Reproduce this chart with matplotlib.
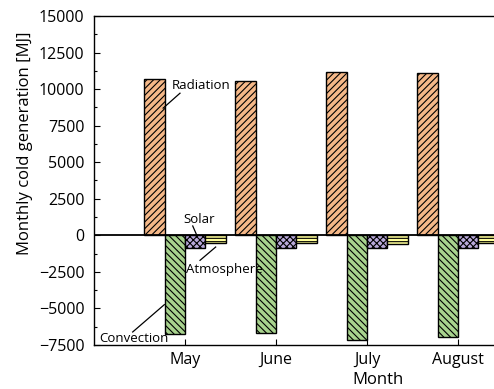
import matplotlib
matplotlib.use("Agg")
import matplotlib.pyplot as plt
from matplotlib.ticker import MultipleLocator
import numpy as np

plt.rcParams['font.family'] = ['Open Sans', 'DejaVu Sans']
plt.rcParams['hatch.linewidth'] = 0.8

months = ["May", "June", "July", "August"]
radiation = [10700, 10560, 11180, 11130]
convection = [-6720, -6680, -7130, -6960]
solar = [-880, -860, -900, -870]
atmosphere = [-540, -520, -560, -540]

series = [
    ("Radiation", radiation, "#F5B888", "/////"),
    ("Convection", convection, "#A8D38E", "\\\\\\\\\\"),
    ("Solar", solar, "#B9A9DA", "xxxxx"),
    ("Atmosphere", atmosphere, "#FFFF9A", "-----"),
]

fig = plt.figure(figsize=(4.94, 3.89), dpi=100)
ax = fig.add_axes([94 / 494, 44 / 389, 455 / 494, 329 / 389])

x = np.arange(len(months))
w = 0.225
offsets = [-1.5 * w, -0.5 * w, 0.5 * w, 1.5 * w]
for (name, vals, color, hatch), off in zip(series, offsets):
    ax.bar(x + off, vals, width=w, color=color, edgecolor="black",
           hatch=hatch, linewidth=1.0, zorder=3)

ax.axhline(0, color="black", linewidth=1.3, zorder=4)

ax.set_xlim(-1, 4)
ax.set_ylim(-7500, 15000)
ax.set_xticks(x)
ax.set_xticklabels(months, fontsize=11.5)
ax.yaxis.set_major_locator(MultipleLocator(2500))
ax.yaxis.set_minor_locator(MultipleLocator(1250))
ax.tick_params(axis="both", which="major", direction="in", length=4,
               width=0.8)
ax.tick_params(axis="y", which="major", pad=7, labelsize=11.5)
ax.tick_params(axis="x", which="major", pad=5)
ax.tick_params(axis="y", which="minor", direction="in", length=2, width=0.8)
ax.spines["right"].set_visible(False)
for s in ["left", "bottom", "top"]:
    ax.spines[s].set_linewidth(1.0)

ax.set_ylabel("Monthly cold generation [MJ]", fontsize=12)
ax.yaxis.set_label_coords(-0.135, 0.614)
fig.text(378 / 494, 1 - 380 / 389, "Month", ha="center", va="center",
         fontsize=12)

# leader lines and series labels
ann = dict(color="black", linewidth=0.9, zorder=5)
lfs = 9.5
ax.plot([-0.24, -0.055], [8700, 9720], **ann)
ax.text(-0.145, 10260, "Radiation", fontsize=lfs, ha="left", va="center")

ax.plot([0.085, 0.13], [640, 0], **ann)
ax.text(0.154, 1100, "Solar", fontsize=lfs, ha="center", va="center")

ax.plot([0.165, 0.337], [-1710, -800], **ann)
ax.text(0.015, -2330, "Atmosphere", fontsize=lfs, ha="left", va="center")

ax.plot([-0.575, -0.227], [-6610, -4740], **ann)
ax.text(-0.94, -7030, "Convection", fontsize=lfs, ha="left", va="center")

fig.savefig("out.png", dpi=100)
